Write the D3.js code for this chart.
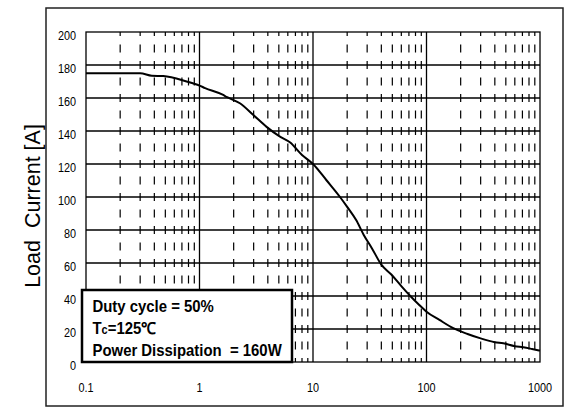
<!DOCTYPE html>
<html>
<head>
<meta charset="utf-8">
<script src="https://cdn.jsdelivr.net/npm/d3@7"></script>
<style>
  body { margin: 0; background: #fff; }
  svg { display: block; }
  text { font-family: Arial, "Liberation Sans", sans-serif; fill: #000; }
</style>
</head>
<body>
<div id="chart"></div>
<script>
// curve: pulse width (log axis) vs load current [A]
const pulseWidth = [0.1, 0.2, 0.3, 0.38, 0.48, 0.77, 1, 1.12, 1.6, 1.75, 2.27, 3, 3.9, 5, 6.3, 8, 10,
  13.2, 17.3, 20, 24, 28, 33, 40, 49, 60, 72, 85, 100, 130, 172, 230, 300, 400, 475, 600, 713, 850, 1000];
const loadCurrent = [175, 175, 175, 173.5, 173.3, 170, 167.5, 166, 162, 160.5, 156.8, 149.5, 142.5, 137, 133, 125.5, 120,
  110, 100, 94, 86, 77, 69, 59, 53, 46, 40, 35, 30.5, 25.5, 20.5, 17, 14.3, 12, 11.3, 9.6, 8.9, 7.9, 6.9];
const xTicks = [0.1, 1, 10, 100, 1000];
const xTickLabels = ['0.1', '1', '10', '100', '1000'];
const yTicks = [0, 20, 40, 60, 80, 100, 120, 140, 160, 180, 200];
const legendLines = ['Duty cycle = 50%', 'Tc=125℃', 'Power Dissipation  = 160W'];

const width = 565, height = 408;
const plot = {left: 86, top: 32, right: 540, bottom: 362};

let svg = d3.select('#chart').append('svg')
  .attr('width', width)
  .attr('height', height);

let x = d3.scaleLog().domain([0.1, 1000]).range([plot.left, plot.right]);
let y = d3.scaleLinear().domain([0, 200]).range([plot.bottom, plot.top]);

// text squeezed sideways, the original uses a narrow face
function narrowText(parent, tx, ty, sx) {
  return parent.append('g')
    .attr('transform', `translate(${tx},${ty}) scale(${sx},1)`)
    .append('text');
}

// outer frame
svg.append('rect')
  .attr('x', 46).attr('y', 8)
  .attr('width', 517).attr('height', 398)
  .attr('fill', 'none')
  .attr('stroke', '#222')
  .attr('stroke-width', 1.5);

// minor (dashed) verticals
let minor = [];
[0.1, 1, 10, 100].forEach(d => {
  for (let k = 2; k <= 9; k++) minor.push(d * k);
});
svg.append('g').selectAll('line')
  .data(minor)
  .enter().append('line')
  .attr('x1', d => x(d)).attr('x2', d => x(d))
  .attr('y1', plot.bottom).attr('y2', plot.top)
  .attr('stroke', '#000')
  .attr('stroke-width', 1.2)
  .attr('stroke-dasharray', '8,8.5')
  .attr('stroke-dashoffset', 4);

// major verticals
svg.append('g').selectAll('line')
  .data(xTicks.slice(1, -1))
  .enter().append('line')
  .attr('x1', d => x(d)).attr('x2', d => x(d))
  .attr('y1', plot.bottom).attr('y2', plot.top)
  .attr('stroke', '#000')
  .attr('stroke-width', 1.3);

// horizontals
svg.append('g').selectAll('line')
  .data(yTicks.slice(1, -1))
  .enter().append('line')
  .attr('x1', plot.left).attr('x2', plot.right)
  .attr('y1', d => y(d)).attr('y2', d => y(d))
  .attr('stroke', '#000')
  .attr('stroke-width', 1.3);

// plot border
svg.append('rect')
  .attr('x', plot.left).attr('y', plot.top)
  .attr('width', plot.right - plot.left).attr('height', plot.bottom - plot.top)
  .attr('fill', 'none')
  .attr('stroke', '#000')
  .attr('stroke-width', 1.3);

// curve
let line = d3.line()
  .x((d, i) => x(pulseWidth[i]))
  .y(d => y(d))
  .curve(d3.curveMonotoneX);
svg.append('path')
  .datum(loadCurrent)
  .attr('d', line)
  .attr('fill', 'none')
  .attr('stroke', '#000')
  .attr('stroke-width', 2);

// tick labels
yTicks.forEach(d => {
  narrowText(svg, 76, y(d) + 7.5, 0.89)
    .attr('text-anchor', 'end')
    .attr('font-size', 12.2)
    .text(d);
});
xTicks.forEach((d, i) => {
  narrowText(svg, x(d), 391.5, 0.89)
    .attr('text-anchor', 'middle')
    .attr('font-size', 12.2)
    .text(xTickLabels[i]);
});

// axis title
svg.append('text')
  .attr('transform', 'translate(40,206) rotate(-90)')
  .attr('text-anchor', 'middle')
  .attr('font-size', 21.5)
  .attr('xml:space', 'preserve')
  .text('Load  Current [A]');

// legend box
let legend = svg.append('g');
legend.append('rect')
  .attr('x', 82).attr('y', 290)
  .attr('width', 210).attr('height', 72)
  .attr('fill', '#fff')
  .attr('stroke', '#000')
  .attr('stroke-width', 2.5);

let baselines = [311.5, 334, 355.5];
legendLines.forEach((t, i) => {
  let txt = narrowText(legend, 92.5, baselines[i], 0.915)
    .attr('font-size', 16.3)
    .attr('font-weight', 'bold')
    .attr('xml:space', 'preserve');
  if (t.startsWith('Tc')) {
    txt.append('tspan').text('T');
    txt.append('tspan').attr('font-size', 12).text('c');
    txt.append('tspan').text(t.slice(2));
  } else {
    txt.text(t);
  }
});
</script>
</body>
</html>
